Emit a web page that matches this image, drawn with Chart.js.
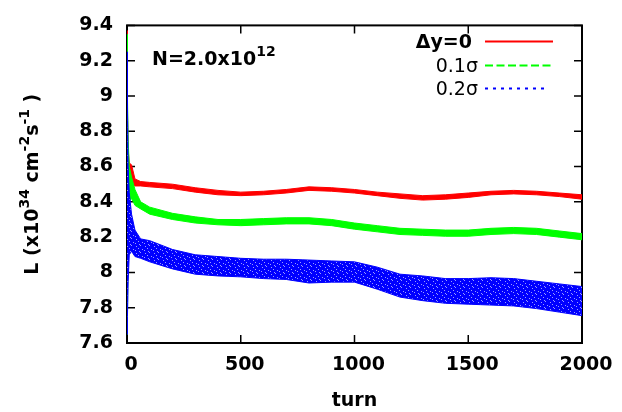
<!DOCTYPE html>
<html>
<head>
<meta charset="utf-8">
<script src="https://cdn.jsdelivr.net/npm/chart.js@4"></script>
<style>
  html, body { margin: 0; padding: 0; background: #fff; }
  #wrap { width: 622px; height: 412px; }
</style>
</head>
<body>
<div id="wrap"><canvas id="lumiChart"></canvas></div>
<script>
// sampled turns (x)
const turns = [0, 2, 5, 10, 20, 35, 60, 100, 200, 300, 400, 500, 600, 700, 800,
  900, 1000, 1100, 1200, 1300, 1400, 1500, 1600, 1700, 1800, 1900, 2000];

// upper / lower edge of each noisy band (x10^34)
const redHigh = [9.37, 8.90, 8.70, 8.62, 8.61, 8.53, 8.515, 8.51, 8.50, 8.48, 8.465, 8.455, 8.46, 8.47, 8.485,
  8.48, 8.47, 8.455, 8.445, 8.435, 8.44, 8.45, 8.46, 8.465, 8.46, 8.45, 8.44];
const redLow = [8.60, 8.55, 8.52, 8.50, 8.50, 8.49, 8.49, 8.485, 8.475, 8.455, 8.44, 8.435, 8.44, 8.45, 8.465,
  8.46, 8.45, 8.435, 8.42, 8.41, 8.415, 8.425, 8.44, 8.445, 8.44, 8.43, 8.415];

const greenHigh = [9.35, 9.00, 8.75, 8.60, 8.54, 8.47, 8.40, 8.37, 8.335, 8.315, 8.30, 8.30, 8.305, 8.31, 8.31,
  8.30, 8.28, 8.265, 8.25, 8.245, 8.24, 8.24, 8.25, 8.255, 8.25, 8.235, 8.22];
const greenLow = [7.65, 7.75, 8.20, 8.40, 8.42, 8.38, 8.36, 8.33, 8.30, 8.28, 8.27, 8.265, 8.27, 8.275, 8.275,
  8.265, 8.245, 8.23, 8.215, 8.21, 8.205, 8.205, 8.215, 8.22, 8.215, 8.20, 8.185];

const blueHigh = [9.25, 8.95, 8.60, 8.45, 8.33, 8.24, 8.19, 8.18, 8.13, 8.10, 8.09, 8.08, 8.075, 8.075, 8.07,
  8.065, 8.06, 8.03, 7.99, 7.98, 7.965, 7.965, 7.97, 7.965, 7.95, 7.935, 7.92];
const blueLow = [7.65, 7.75, 7.95, 8.10, 8.12, 8.09, 8.08, 8.06, 8.02, 7.99, 7.98, 7.975, 7.965, 7.96, 7.94,
  7.945, 7.945, 7.905, 7.86, 7.84, 7.825, 7.82, 7.815, 7.81, 7.795, 7.775, 7.755];

const xTicks = [0, 500, 1000, 1500, 2000];
const yTicks = [7.6, 7.8, 8.0, 8.2, 8.4, 8.6, 8.8, 9.0, 9.2, 9.4];
const yTickLabels = ["7.6", "7.8", "8", "8.2", "8.4", "8.6", "8.8", "9", "9.2", "9.4"];

const legendLabels = ["\u0394y=0", "0.1\u03c3", "0.2\u03c3"];

const FONT = '"DejaVu Sans", sans-serif';

// speckled fill for the wide blue band
function speckle(color, dots) {
  const c = document.createElement("canvas");
  c.width = 9; c.height = 7;
  const g = c.getContext("2d");
  g.fillStyle = color;
  g.fillRect(0, 0, 9, 7);
  g.fillStyle = "rgba(255,255,255,0.6)";
  dots.forEach(([dx, dy]) => g.fillRect(dx, dy, 1, 1));
  return g.createPattern(c, "repeat");
}

const pts = (arr) => turns.map((t, i) => ({ x: t, y: arr[i] }));

function band(high, low, color, fillStyle, order) {
  return [
    { data: pts(high), borderColor: color, borderWidth: 1, fill: false, order: order },
    { data: pts(low), borderColor: color, borderWidth: 1, backgroundColor: fillStyle, fill: "-1", order: order },
  ];
}

// text with superscripts, drawn left to right from (x, y) baseline
function richWidth(ctx, parts, size, weight) {
  let w = 0;
  parts.forEach((p) => {
    ctx.font = `${weight} ${p.sup ? Math.round(size * 0.72) : size}px ${FONT}`;
    w += ctx.measureText(p.t).width;
  });
  return w;
}
function drawRich(ctx, parts, x, y, size, weight) {
  let cx = x;
  parts.forEach((p) => {
    ctx.font = `${weight} ${p.sup ? Math.round(size * 0.72) : size}px ${FONT}`;
    ctx.fillText(p.t, cx, p.sup ? y - size * 0.45 : y);
    cx += ctx.measureText(p.t).width;
  });
}

const framePlugin = {
  id: "frame",
  beforeDatasetsDraw(chart) {
    const { ctx, chartArea: a, scales: { x, y } } = chart;
    ctx.save();
    ctx.strokeStyle = "#000";
    ctx.lineWidth = 1.5;
    ctx.beginPath();
    xTicks.forEach((v) => {
      const px = x.getPixelForValue(v);
      ctx.moveTo(px, a.bottom); ctx.lineTo(px, a.bottom - 8);
      ctx.moveTo(px, a.top); ctx.lineTo(px, a.top + 8);
    });
    yTicks.forEach((v) => {
      const py = y.getPixelForValue(v);
      ctx.moveTo(a.left, py); ctx.lineTo(a.left + 8, py);
      ctx.moveTo(a.right, py); ctx.lineTo(a.right - 8, py);
    });
    ctx.stroke();
    ctx.lineWidth = 2;
    ctx.strokeRect(a.left, a.top, a.right - a.left, a.bottom - a.top);
    ctx.restore();
  },
  afterDraw(chart) {
    const { ctx, chartArea: a } = chart;
    ctx.save();
    ctx.fillStyle = "#000";
    ctx.textBaseline = "alphabetic";
    ctx.textAlign = "left";

    // beam intensity note
    drawRich(ctx, [{ t: "N=2.0x10" }, { t: "12", sup: true }], 152, 65, 19, "bold");

    // y axis title, rotated
    const yTitle = [
      { t: "L (x10" }, { t: "34", sup: true }, { t: " cm" }, { t: "-2", sup: true },
      { t: "s" }, { t: "-1", sup: true }, { t: " )" },
    ];
    const w = richWidth(ctx, yTitle, 19, "bold");
    ctx.save();
    ctx.translate(38, (a.top + a.bottom) / 2);
    ctx.rotate(-Math.PI / 2);
    drawRich(ctx, yTitle, -w / 2, 0, 19, "bold");
    ctx.restore();

    // legend: labels right aligned, sample line to the right
    const colors = ["#ff0000", "#00ff00", "#0000ff"];
    const dash = [[68, 0], [8, 3.5], [3, 5]];
    const rows = [48, 72, 95];
    legendLabels.forEach((lab, i) => {
      ctx.fillStyle = "#000";
      ctx.textAlign = "right";
      ctx.font = `${i === 0 ? "bold" : "normal"} 19px ${FONT}`;
      ctx.fillText(lab, i === 0 ? 472 : 478, rows[i]);
      ctx.fillStyle = colors[i];
      const end = i === 2 ? 548 : 553;
      for (let sx = 485; sx < end; sx += dash[i][0] + dash[i][1]) {
        ctx.fillRect(sx, rows[i] - 7.5, Math.min(dash[i][0], end - sx), 2);
      }
    });
    ctx.restore();
  },
};

const blueFill = speckle("#0000ff", [[1, 1], [5, 0], [3, 3], [7, 4], [0, 5], [4, 6]]);

new Chart(document.getElementById("lumiChart"), {
  type: "line",
  data: {
    datasets: [
      ...band(blueHigh, blueLow, "#0000ff", blueFill, 1),
      ...band(greenHigh, greenLow, "#00ff00", "#00ff00", 2),
      ...band(redHigh, redLow, "#ff0000", "#ff0000", 3),
    ],
  },
  options: {
    responsive: true,
    maintainAspectRatio: false,
    animation: false,
    layout: { padding: { top: 19, right: 40, left: 0, bottom: 0 } },
    plugins: { legend: { display: false }, tooltip: { enabled: false } },
    elements: { point: { radius: 0 }, line: { tension: 0 } },
    scales: {
      x: {
        type: "linear",
        min: 0,
        max: 2000,
        grid: { display: false, drawTicks: false },
        border: { display: false },
        ticks: {
          color: "#000",
          font: { family: FONT, size: 19, weight: "bold" },
          padding: 11,
          labelOffset: 4,
          maxRotation: 0,
          callback: (v) => String(v),
        },
        afterBuildTicks: (s) => { s.ticks = xTicks.map((v) => ({ value: v })); },
        afterFit: (s) => { s.height = 69; },
        title: { display: true, text: "turn", color: "#000", font: { family: FONT, size: 19, weight: "bold" }, padding: 0 },
      },
      y: {
        type: "linear",
        min: 7.6,
        max: 9.4,
        grid: { display: false, drawTicks: false },
        border: { display: false },
        ticks: {
          color: "#000",
          font: { family: FONT, size: 19, weight: "bold" },
          padding: 14,
          callback: (v) => { const i = yTicks.findIndex((t) => Math.abs(t - v) < 1e-6); return i >= 0 ? yTickLabels[i] : ""; },
        },
        afterBuildTicks: (s) => { s.ticks = yTicks.map((v) => ({ value: v })); },
        afterFit: (s) => { s.width = 127; },
      },
    },
  },
  plugins: [framePlugin],
});
</script>
</body>
</html>
